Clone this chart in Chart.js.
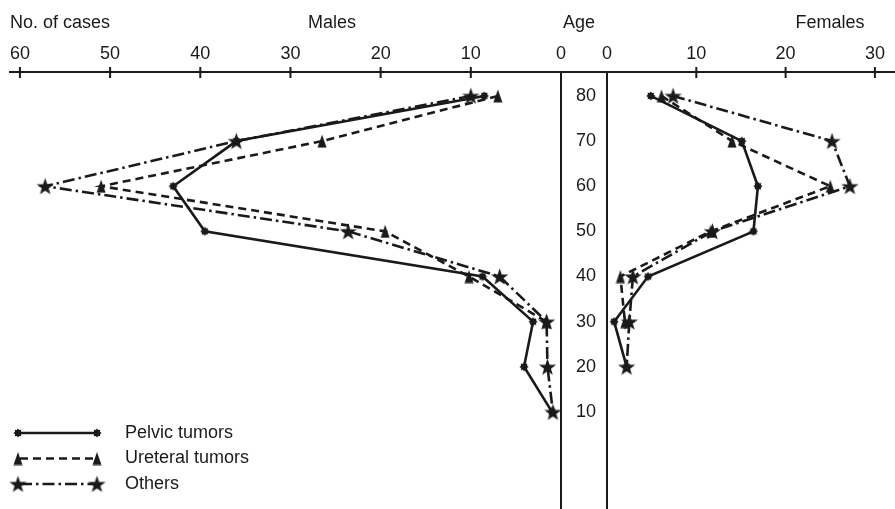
<!DOCTYPE html>
<html>
<head>
<meta charset="utf-8">
<script src="https://cdn.jsdelivr.net/npm/chart.js@4.4.0/dist/chart.umd.min.js"></script>
<style>
  body { margin: 0; background: #fff; font-family: "Liberation Sans", Arial, sans-serif; }
  #wrap { position: relative; width: 895px; height: 509px; overflow: hidden; }
  canvas { position: absolute; top: 0; }
  .lbl { position: absolute; top: 10px; font-size: 18px; line-height: 24px; color: #1a1a1a; white-space: nowrap; }
  .mid { transform: translateX(-50%); }
</style>
</head>
<body>
<div id="wrap">
  <canvas id="males" width="580" height="509" style="left:0"></canvas>
  <canvas id="females" width="334" height="509" style="left:561px"></canvas>
  <div class="lbl" style="left:10px">No. of cases</div>
  <div class="lbl mid" style="left:332px">Males</div>
  <div class="lbl mid" style="left:579px">Age</div>
  <div class="lbl mid" style="left:830px">Females</div>
</div>
<script>
// age groups (rows) and case counts
const ages = [80, 70, 60, 50, 40, 30, 20, 10];
const malePelvic   = [8.5, 36, 43, 39.5, 8.7, 3.1, 4.1, 1.0];
const maleUreteral = [7, 26.5, 51, 19.5, 10.2, 1.6, null, null];
const maleOthers   = [10, 36, 57.2, 23.6, 6.8, 1.6, 1.5, 0.9];
const femalePelvic   = [4.9, 15.1, 16.9, 16.4, 4.6, 0.8, 2.2, null];
const femaleUreteral = [6.1, 14, 25, 11.6, 1.5, 2.0, null, null];
const femaleOthers   = [7.4, 25.2, 27.2, 11.8, 2.9, 2.5, 2.2, null];
const maleTicks = [60, 50, 40, 30, 20, 10, 0];
const femaleTicks = [0, 10, 20, 30];
const seriesNames = ["Pelvic tumors", "Ureteral tumors", "Others"];

const INK = "#1a1a1a";
Chart.defaults.font.family = '"Liberation Sans", Arial, sans-serif';
Chart.defaults.color = INK;

// marker shapes
function makeMarker(w, h, draw) {
  const c = document.createElement("canvas");
  c.width = w; c.height = h;
  const g = c.getContext("2d");
  g.fillStyle = INK;
  draw(g);
  return c;
}
const dotMark = makeMarker(10, 10, g => {
  g.beginPath();
  for (let i = 0; i < 16; i++) {
    const r = i % 2 ? 3.2 : 4.6, a = i * Math.PI / 8;
    g.lineTo(5 + r * Math.cos(a), 5 + r * Math.sin(a));
  }
  g.closePath(); g.fill();
});
const triMark = makeMarker(10, 14, g => {
  g.beginPath(); g.moveTo(5, 0.5); g.lineTo(9.5, 13.5); g.lineTo(0.5, 13.5); g.closePath(); g.fill();
});
const starMark = makeMarker(19, 19, g => {
  g.beginPath();
  for (let i = 0; i < 10; i++) {
    const r = i % 2 ? 3.6 : 9, a = -Math.PI / 2 + i * Math.PI / 5;
    g.lineTo(9.5 + r * Math.cos(a), 10.3 + r * Math.sin(a));
  }
  g.closePath(); g.fill();
});

const styles = [
  { dash: [], mark: dotMark },
  { dash: [8, 5], mark: triMark },
  { dash: [12, 4, 2.5, 4], mark: starMark }
];

function toPoints(vals) {
  return ages.map((a, i) => ({ x: vals[i], y: a })).filter(p => p.x !== null);
}

function makeDatasets(list) {
  return list.map((vals, i) => ({
    label: seriesNames[i],
    data: toPoints(vals),
    showLine: true,
    borderColor: INK,
    backgroundColor: INK,
    borderWidth: 2.6,
    borderDash: styles[i].dash,
    borderCapStyle: "butt",
    pointStyle: styles[i].mark,
    pointRadius: 5,
    tension: 0,
    clip: false
  }));
}

const Y_MIN = -11.5, Y_MAX = 85.3;

function yScale(position, showLabels, width) {
  return {
    type: "linear", position, min: Y_MIN, max: Y_MAX,
    afterBuildTicks: s => { s.ticks = ages.map(v => ({ value: v })); },
    afterFit: s => { s.width = width; s.paddingTop = 0; s.paddingBottom = 0; },
    grid: { drawOnChartArea: false, drawTicks: false },
    border: { display: true, color: INK, width: 2 },
    ticks: { display: showLabels, padding: 11, color: INK, font: { size: 18 } }
  };
}

function xScale(max, reverse, ticks) {
  return {
    type: "linear", position: "top", min: 0, max, reverse,
    afterBuildTicks: s => { s.ticks = ticks.map(v => ({ value: v })); },
    afterFit: s => { s.height = 72; s.paddingLeft = 0; s.paddingRight = 0; },
    grid: { drawOnChartArea: false, drawTicks: false },
    border: { display: true, color: INK, width: 2 },
    ticks: { padding: 7, color: INK, font: { size: 18 }, autoSkip: false, maxRotation: 0 }
  };
}

// tick marks crossing the top axis line
const crossTicks = {
  id: "crossTicks",
  afterDraw(chart) {
    const s = chart.scales.x, ctx = chart.ctx, y = chart.chartArea.top;
    ctx.save();
    ctx.strokeStyle = INK; ctx.lineWidth = 2;
    s.ticks.forEach(t => {
      if (t.value === 0) return;
      const x = s.getPixelForValue(t.value);
      ctx.beginPath(); ctx.moveTo(x, y - 5); ctx.lineTo(x, y + 6); ctx.stroke();
    });
    ctx.restore();
  }
};

// axis line running through the age column
const gapLine = {
  id: "gapLine",
  afterDraw(chart) {
    const ctx = chart.ctx, a = chart.chartArea;
    ctx.save();
    ctx.strokeStyle = INK; ctx.lineWidth = 2;
    ctx.beginPath(); ctx.moveTo(0, a.top); ctx.lineTo(a.left, a.top); ctx.stroke();
    ctx.restore();
  }
};

// legend drawn as line + marker at both ends
const lineLegend = {
  id: "lineLegend",
  afterDraw(chart) {
    const ctx = chart.ctx;
    chart.data.datasets.forEach((ds, i) => {
      const y = 433 + i * 25.5;
      ctx.save();
      ctx.strokeStyle = INK; ctx.lineWidth = ds.borderWidth;
      ctx.setLineDash(ds.borderDash);
      ctx.beginPath(); ctx.moveTo(20, y); ctx.lineTo(96, y); ctx.stroke();
      ctx.setLineDash([]);
      const m = ds.pointStyle;
      [18, 97].forEach(x => ctx.drawImage(m, x - m.width / 2, y - m.height / 2));
      ctx.fillStyle = INK;
      ctx.font = '18px "Liberation Sans", Arial, sans-serif';
      ctx.textBaseline = "middle";
      ctx.fillText(ds.label, 125, y);
      ctx.restore();
    });
  }
};

const common = {
  responsive: false,
  animation: false,
  devicePixelRatio: 1,
  plugins: { legend: { display: false }, tooltip: { enabled: false } }
};

new Chart(document.getElementById("males"), {
  type: "scatter",
  data: { datasets: makeDatasets([malePelvic, maleUreteral, maleOthers]) },
  options: {
    ...common,
    layout: { autoPadding: false, padding: { left: 10, right: 0, top: 0, bottom: 0 } },
    scales: {
      x: xScale(61.1, true, maleTicks),
      y: yScale("right", false, 19)
    }
  },
  plugins: [crossTicks, lineLegend]
});

new Chart(document.getElementById("females"), {
  type: "scatter",
  data: { datasets: makeDatasets([femalePelvic, femaleUreteral, femaleOthers]) },
  options: {
    ...common,
    layout: { autoPadding: false, padding: 0 },
    scales: {
      x: xScale(32.25, false, femaleTicks),
      y: yScale("left", true, 46)
    }
  },
  plugins: [crossTicks, gapLine]
});
</script>
</body>
</html>
